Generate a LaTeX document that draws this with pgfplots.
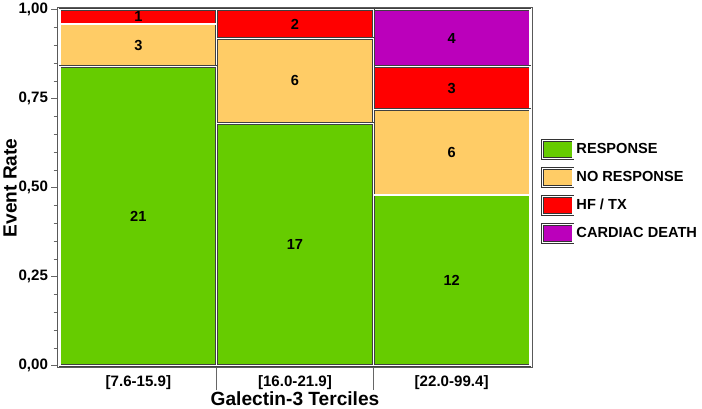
\documentclass[border=0pt]{standalone}
\usepackage{fontspec}
\setmainfont{Liberation Sans}
\usepackage{pgfplots}
\pgfplotsset{compat=1.18}
\definecolor{cresp}{RGB}{102,204,0}
\definecolor{cnoresp}{RGB}{255,204,102}
\definecolor{chf}{RGB}{255,0,0}
\definecolor{cdeath}{RGB}{187,0,187}
\pgfplotsset{
  common/.style={scale only axis, width=472pt, height=358pt,
    xmin=-0.516, xmax=2.516, ymin=-0.006, ymax=1.006},
  cell/.style={fill=#1, draw=black!75, line width=0.7pt, double=white, double distance=1.3pt,
    legend image code/.code={\draw[fill=#1, draw=black!80, line width=0.8pt] (0pt,-9pt) rectangle (30pt,9pt);}},
}
\begin{document}
\begin{tikzpicture}
\begin{axis}[
  common,
  ybar stacked, bar width=1,
  xtick={0,1,2},
  xticklabels={{[7.6-15.9]},{[16.0-21.9]},{[22.0-99.4]}},
  ytick={0,0.25,0.5,0.75,1}, minor y tick num=4,
  tick align=outside, major tick length=6pt, minor tick length=4pt,
  xtick pos=bottom, ytick pos=left,
  xtick style={draw=none},
  ytick style={draw=black!60, line width=0.6pt},
  extra x ticks={0.5,1.5}, extra x tick labels={},
  extra x tick style={major tick length=22pt, xtick style={draw=black!60, line width=0.6pt}},
  axis line style={draw=black!65, line width=0.8pt},
  tick label style={font=\bfseries\fontsize{15}{17}\selectfont},
  xticklabel style={yshift=1.5pt},
  /pgf/number format/assume math mode=true,
  yticklabel style={/pgf/number format/.cd, fixed, fixed zerofill, precision=2, use comma},
  xlabel={Galectin-3 Terciles}, ylabel={Event Rate},
  label style={font=\bfseries\fontsize{19}{22}\selectfont},
  xlabel style={at={(axis description cs:0.5,0)}, anchor=north, yshift=-20pt},
  ylabel style={yshift=-5pt},
  legend style={at={(axis description cs:1.012,0.49)}, anchor=west, draw=none, fill=none,
    font=\bfseries\fontsize{14.5}{16}\selectfont, row sep=7pt},
  legend cell align=left,
]
\addplot[cell=cresp] coordinates {(0,0.84) (1,0.68) (2,0.48)};
\addplot[cell=cnoresp] coordinates {(0,0.12) (1,0.24) (2,0.24)};
\addplot[cell=chf] coordinates {(0,0.04) (1,0.08) (2,0.12)};
\addplot[cell=cdeath] coordinates {(0,0) (1,0) (2,0.16)};
\legend{RESPONSE, NO RESPONSE, HF / TX, CARDIAC DEATH}
\end{axis}
\begin{axis}[common, hide axis, clip=false]
\addplot[only marks, mark=none, nodes near coords, point meta=explicit symbolic,
  nodes near coords style={anchor=center, font=\bfseries\fontsize{14.5}{16}\selectfont}]
  table[meta=label] {
x y label
0 0.42 21
0 0.90 3
0 0.98 1
1 0.34 17
1 0.80 6
1 0.96 2
2 0.24 12
2 0.60 6
2 0.78 3
2 0.92 4
};
\end{axis}
\end{tikzpicture}
\end{document}
